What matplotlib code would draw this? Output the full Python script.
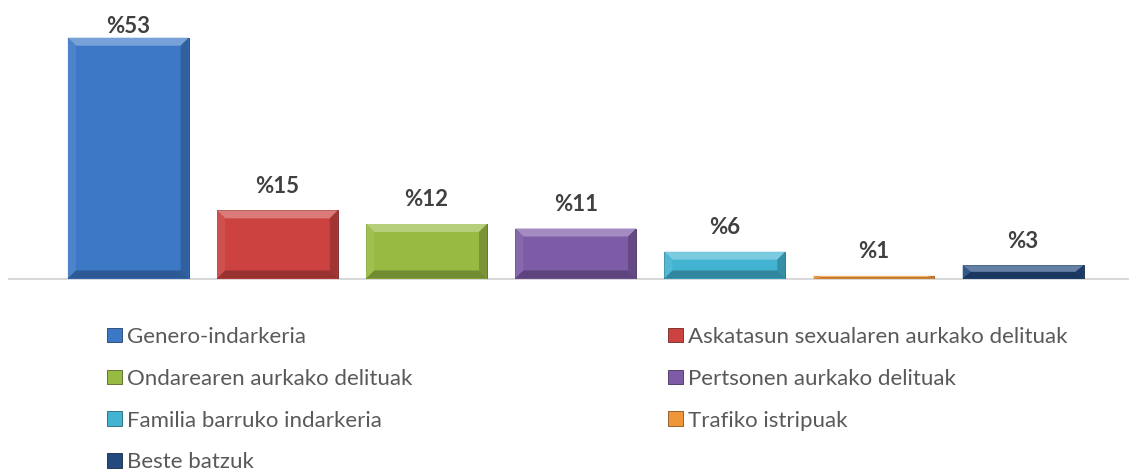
import matplotlib
matplotlib.use("Agg")
import matplotlib.pyplot as plt
from matplotlib.patches import Polygon
from matplotlib.colors import to_rgb

# datuak
categories = ["Genero-indarkeria", "Askatasun sexualaren aurkako delituak",
              "Ondarearen aurkako delituak", "Pertsonen aurkako delituak",
              "Familia barruko indarkeria", "Trafiko istripuak", "Beste batzuk"]
values = [53, 15, 12, 11, 5.9, 0.6, 2.9]
colors = ["#3c78c6", "#cb4240", "#97ba42", "#7d5ba6", "#42b3d1", "#f0963a", "#23497f"]


def mix(c, other, t):
    c = to_rgb(c)
    return tuple(a * (1 - t) + b * t for a, b in zip(c, other))


plt.rcParams['font.family'] = ['Lato', 'DejaVu Sans']

W, H = 1129, 473
fig = plt.figure(figsize=(W / 100, H / 100), dpi=100)
ax = fig.add_axes([9 / W, 1 - 278.5 / H, 1120 / W, 272.6 / H])

x = list(range(len(values)))
bars = ax.bar(x, values, width=0.81, color=colors, zorder=3,
              edgecolor=[mix(c, (0, 0, 0), 0.45) for c in colors], linewidth=0.6)
ax.set_xlim(-0.8, 6.71)
ax.set_ylim(0, 60)

# bevel efektua (Excel estiloa)
ax_w = ax.get_position().width * W
ax_h = ax.get_position().height * H
dx = 8 * (6.71 + 0.8) / ax_w
dy = 8 * 60 / ax_h
for b, c in zip(bars, colors):
    x0, w, h = b.get_x(), b.get_width(), b.get_height()
    bx, by = min(dx, w / 2), min(dy, h / 2)
    top = [(x0, h), (x0 + w, h), (x0 + w - bx, h - by), (x0 + bx, h - by)]
    left = [(x0, 0), (x0, h), (x0 + bx, h - by), (x0 + bx, by)]
    right = [(x0 + w, 0), (x0 + w, h), (x0 + w - bx, h - by), (x0 + w - bx, by)]
    bottom = [(x0, 0), (x0 + w, 0), (x0 + w - bx, by), (x0 + bx, by)]
    for pts, col in [(top, mix(c, (1, 1, 1), 0.3)), (left, mix(c, (1, 1, 1), 0.08)),
                     (right, mix(c, (0, 0, 0), 0.2)), (bottom, mix(c, (0, 0, 0), 0.25))]:
        ax.add_patch(Polygon(pts, closed=True, facecolor=col, edgecolor='none', zorder=4))

for i, v in zip(x, values):
    ax.text(i, min(v + 3.9, 54.0), f"%{round(v)}", ha='center', va='baseline',
            fontsize=16, fontweight='bold', color='#404040', zorder=5)

for s in ['top', 'left', 'right']:
    ax.spines[s].set_visible(False)
ax.spines['bottom'].set_color('#d9d9d9')
ax.spines['bottom'].set_linewidth(1.5)
ax.set_xticks([])
ax.set_yticks([])

# legenda bi zutabetan
leg_opts = dict(loc='upper left', frameon=False, fontsize=16, labelcolor='#595959',
                handlelength=0.68, handleheight=0.63, handletextpad=0.22,
                labelspacing=0.98, borderpad=0, borderaxespad=0)
fig.legend([bars[i] for i in [0, 2, 4, 6]], [categories[i] for i in [0, 2, 4, 6]],
           bbox_to_anchor=(107 / W, 1 - 327 / H), **leg_opts)
fig.legend([bars[i] for i in [1, 3, 5]], [categories[i] for i in [1, 3, 5]],
           bbox_to_anchor=(668 / W, 1 - 327 / H), **leg_opts)

fig.savefig("out.png", dpi=100)
